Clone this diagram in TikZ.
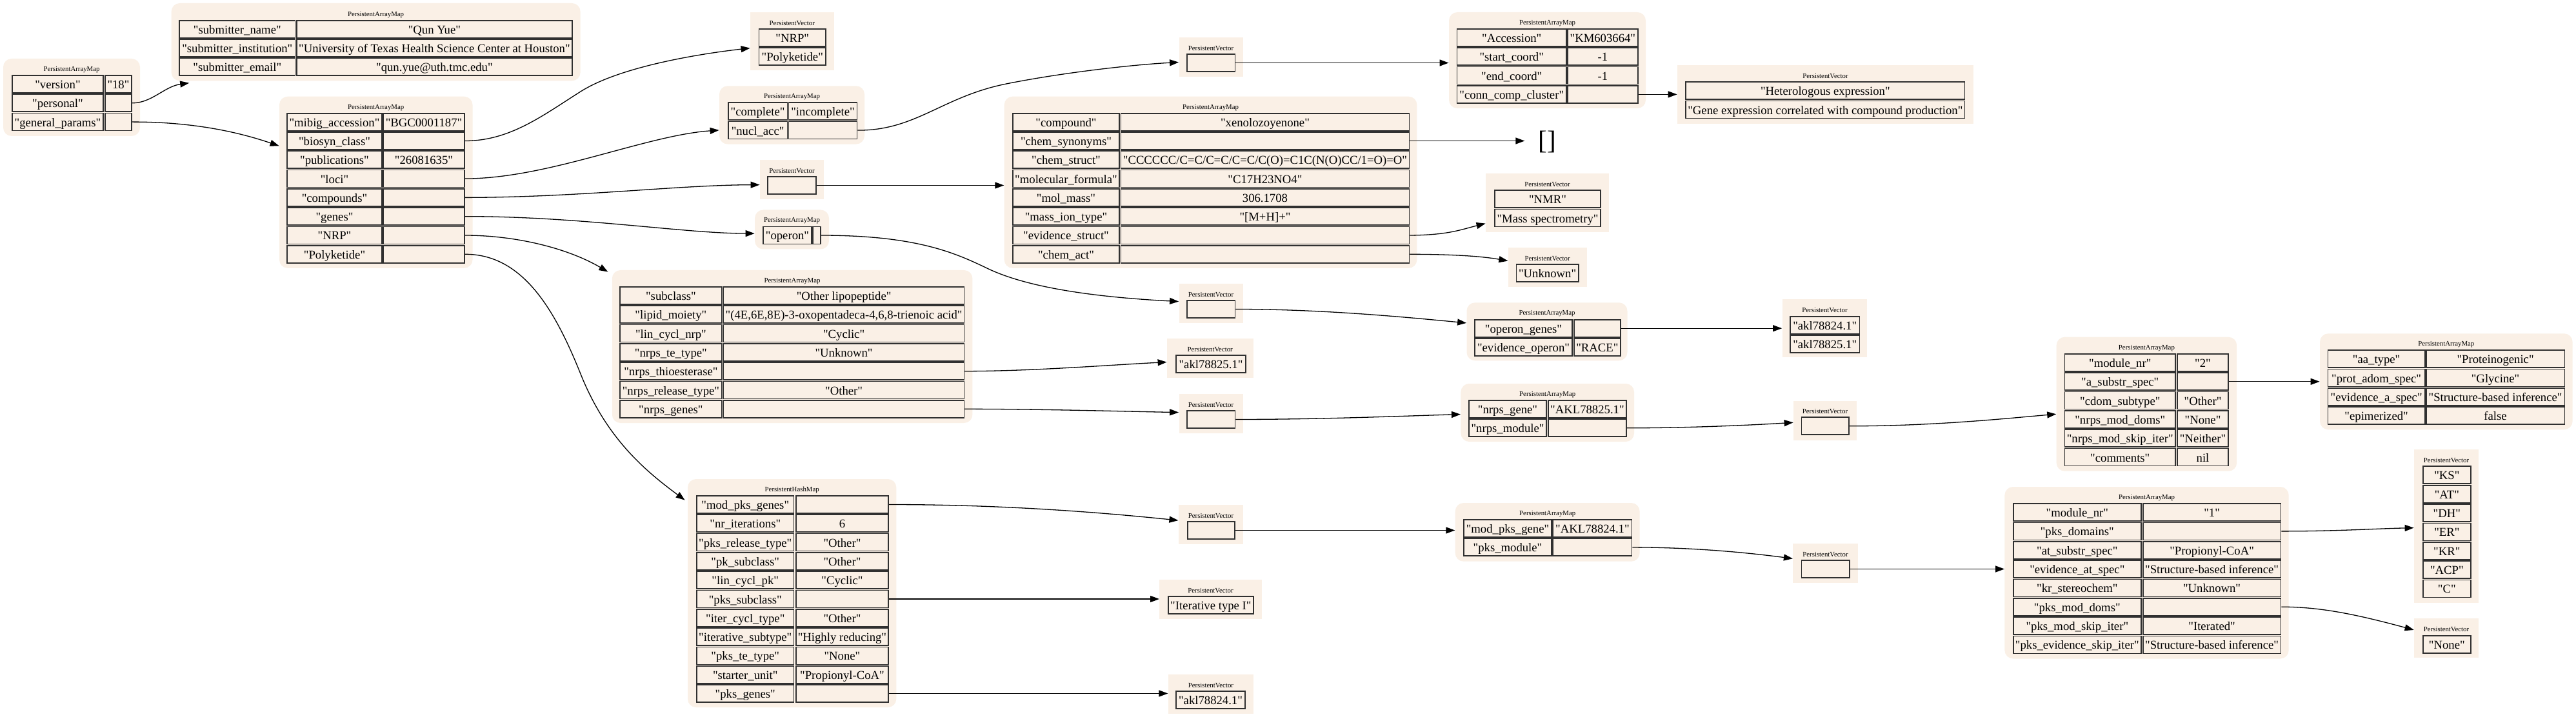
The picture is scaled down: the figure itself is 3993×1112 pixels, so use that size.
\documentclass[tikz,border=0pt]{standalone}
\usepackage{fontspec}
\setmainfont{Liberation Serif}[Ligatures=TeXOff]
\usetikzlibrary{fit,calc,arrows.meta}
\definecolor{bgfill}{HTML}{FAF0E6}
\definecolor{cellline}{HTML}{303030}
% key/value row: name, ytop, kx1, kx2, vx1, vx2, key, value
\newcommand\KV[8]{%
\node[cellst, minimum width={(#4-(#3))*0.5pt}] (#1k) at ({(#3+#4)/2},{#2+13.5}) {#7};
\node[cellst, minimum width={(#6-(#5))*0.5pt}] (#1v) at ({(#5+#6)/2},{#2+13.5}) {#8};}
% vector cell: name, x1, ytop, x2, text
\newcommand\VC[5]{\node[cellst, minimum width={(#4-(#2))*0.5pt}] (#1) at ({(#2+#4)/2},{#3+13.5}) {#5};}
\newcommand\BGM[5]{\node[mapbg, fit={(#2,#3) (#4,#5)}] (#1) {};}
\newcommand\BGV[5]{\node[vecbg, fit={(#2,#3) (#4,#5)}] (#1) {};}
\newcommand\TTL[4]{\node[ttlst] (#1) at (#2,#3) {#4};}
\begin{document}
\begin{tikzpicture}[x=0.5pt,y=-0.5pt,
 mapbg/.style={fill=bgfill, draw=none, rounded corners=6.5pt, inner sep=0pt},
 vecbg/.style={fill=bgfill, draw=none, inner sep=0pt},
 cellst/.style={draw=cellline, line width=0.85pt, inner xsep=0pt, inner ysep=0pt, text height=10.25pt, text depth=3.25pt, anchor=center, font=\fontsize{9.35}{11}\selectfont},
 ttlst/.style={inner sep=0pt, font=\fontsize{5.4}{6}\selectfont},
 conn/.style={draw=black, line width=0.65pt, -{Triangle[length=7pt,width=5pt]}}]
\fill[white] (0,0) rectangle (3993,1112);
\useasboundingbox (0,0) rectangle (3993,1112);

% ---------- A root
\BGM{Abg}{5}{91}{217}{211}
\TTL{At}{111}{108}{PersistentArrayMap}
\KV{A1}{117}{19}{160}{163}{204}{"version"}{"18"}
\KV{A2}{146.3}{19}{160}{163}{204}{"personal"}{}
\KV{A3}{175.6}{19}{160}{163}{204}{"general\_params"}{}

% ---------- B personal
\BGM{Bbg}{265.6}{5}{899.6}{125.3}
\TTL{Bt}{582.6}{22.7}{PersistentArrayMap}
\KV{B1}{31.7}{278}{457.6}{459.8}{887}{"submitter\_name"}{"Qun Yue"}
\KV{B2}{61}{278}{457.6}{459.8}{887}{"submitter\_institution"}{"University of Texas Health Science Center at Houston"}
\KV{B3}{90.3}{278}{457.6}{459.8}{887}{"submitter\_email"}{"qun.yue@uth.tmc.edu"}

% ---------- C general params
\BGM{Cbg}{433}{149.7}{732.5}{415.8}
\TTL{Ct}{582.7}{166.7}{PersistentArrayMap}
\KV{C1}{175.7}{445}{592}{594}{720}{"mibig\_accession"}{"BGC0001187"}
\KV{C2}{205}{445}{592}{594}{720}{"biosyn\_class"}{}
\KV{C3}{234.3}{445}{592}{594}{720}{"publications"}{"26081635"}
\KV{C4}{263.6}{445}{592}{594}{720}{"loci"}{}
\KV{C5}{292.9}{445}{592}{594}{720}{"compounds"}{}
\KV{C6}{322.2}{445}{592}{594}{720}{"genes"}{}
\KV{C7}{351.5}{445}{592}{594}{720}{"NRP"}{}
\KV{C8}{380.8}{445}{592}{594}{720}{"Polyketide"}{}

% ---------- rank 2
\BGV{Dbg}{1163}{19}{1292.5}{109}
\TTL{Dt}{1227.8}{36}{PersistentVector}
\VC{D1}{1176.5}{45}{1280}{"NRP"}
\VC{D2}{1176.5}{74.3}{1280}{"Polyketide"}

\BGM{Ebg}{1115}{133.3}{1340}{223.6}
\TTL{Et}{1227.5}{150.3}{PersistentArrayMap}
\KV{E1}{159.3}{1128.7}{1220.5}{1222.5}{1328.5}{"complete"}{"incomplete"}
\KV{E2}{188.6}{1128.7}{1220.5}{1222.5}{1328.5}{"nucl\_acc"}{}

\BGV{Fbg}{1178}{248}{1277}{309}
\TTL{Ft}{1227.5}{265}{PersistentVector}
\VC{Fc}{1190}{274}{1265}{}

\BGM{OPbg}{1170}{325.5}{1285}{386.5}
\TTL{OPt}{1227.5}{342.5}{PersistentArrayMap}
\KV{OP1}{351.5}{1183}{1258}{1260}{1272}{"operon"}{}

\BGM{Hbg}{948.8}{419}{1507.4}{656}
\TTL{Ht}{1228}{436}{PersistentArrayMap}
\KV{H1}{445}{960.8}{1119}{1121.6}{1494.6}{"subclass"}{"Other lipopeptide"}
\KV{H2}{474.3}{960.8}{1119}{1121.6}{1494.6}{"lipid\_moiety"}{"(4E,6E,8E)-3-oxopentadeca-4,6,8-trienoic acid"}
\KV{H3}{503.6}{960.8}{1119}{1121.6}{1494.6}{"lin\_cycl\_nrp"}{"Cyclic"}
\KV{H4}{532.9}{960.8}{1119}{1121.6}{1494.6}{"nrps\_te\_type"}{"Unknown"}
\KV{H5}{562.2}{960.8}{1119}{1121.6}{1494.6}{"nrps\_thioesterase"}{}
\KV{H6}{591.5}{960.8}{1119}{1121.6}{1494.6}{"nrps\_release\_type"}{"Other"}
\KV{H7}{620.8}{960.8}{1119}{1121.6}{1494.6}{"nrps\_genes"}{}

\BGM{Ibg}{1066}{743}{1389.3}{1097}
\TTL{It}{1227.7}{760}{PersistentHashMap}
\KV{I1}{769}{1080}{1230.5}{1233.7}{1377.2}{"mod\_pks\_genes"}{}
\KV{I2}{798.3}{1080}{1230.5}{1233.7}{1377.2}{"nr\_iterations"}{6}
\KV{I3}{827.6}{1080}{1230.5}{1233.7}{1377.2}{"pks\_release\_type"}{"Other"}
\KV{I4}{856.9}{1080}{1230.5}{1233.7}{1377.2}{"pk\_subclass"}{"Other"}
\KV{I5}{886.2}{1080}{1230.5}{1233.7}{1377.2}{"lin\_cycl\_pk"}{"Cyclic"}
\KV{I6}{915.5}{1080}{1230.5}{1233.7}{1377.2}{"pks\_subclass"}{}
\KV{I7}{944.8}{1080}{1230.5}{1233.7}{1377.2}{"iter\_cycl\_type"}{"Other"}
\KV{I8}{974.1}{1080}{1230.5}{1233.7}{1377.2}{"iterative\_subtype"}{"Highly reducing"}
\KV{I9}{1003.4}{1080}{1230.5}{1233.7}{1377.2}{"pks\_te\_type"}{"None"}
\KV{I10}{1032.7}{1080}{1230.5}{1233.7}{1377.2}{"starter\_unit"}{"Propionyl-CoA"}
\KV{I11}{1062}{1080}{1230.5}{1233.7}{1377.2}{"pks\_genes"}{}

% ---------- rank 3
\BGV{Nbg}{1827.5}{58}{1926.5}{119}
\TTL{Nt}{1877}{75}{PersistentVector}
\VC{Nc}{1840}{84}{1914.5}{}

\BGM{Gbg}{1556.7}{149.7}{2196.4}{415.8}
\TTL{Gt}{1876.5}{166.7}{PersistentArrayMap}
\KV{G1}{175.7}{1570}{1735}{1737.5}{2184.4}{"compound"}{"xenolozoyenone"}
\KV{G2}{205}{1570}{1735}{1737.5}{2184.4}{"chem\_synonyms"}{}
\KV{G3}{234.3}{1570}{1735}{1737.5}{2184.4}{"chem\_struct"}{"CCCCCC/C=C/C=C/C=C/C(O)=C1C(N(O)CC/1=O)=O"}
\KV{G4}{263.6}{1570}{1735}{1737.5}{2184.4}{"molecular\_formula"}{"C17H23NO4"}
\KV{G5}{292.9}{1570}{1735}{1737.5}{2184.4}{"mol\_mass"}{306.1708}
\KV{G6}{322.2}{1570}{1735}{1737.5}{2184.4}{"mass\_ion\_type"}{"[M+H]+"}
\KV{G7}{351.5}{1570}{1735}{1737.5}{2184.4}{"evidence\_struct"}{}
\KV{G8}{380.8}{1570}{1735}{1737.5}{2184.4}{"chem\_act"}{}

\BGV{V1bg}{1827.5}{440}{1926.5}{501}
\TTL{V1t}{1877}{457}{PersistentVector}
\VC{V1c}{1840}{466}{1914.5}{}

\BGV{Pbg}{1809}{525}{1942.5}{586}
\TTL{Pt}{1875.7}{542}{PersistentVector}
\VC{P1}{1823}{551}{1931}{"akl78825.1"}

\BGV{Qbg}{1827.5}{611}{1926.5}{672}
\TTL{Qt}{1877}{628}{PersistentVector}
\VC{Qc}{1840}{637}{1914.5}{}

\BGV{AAbg}{1826.8}{783}{1927}{844}
\TTL{AAt}{1877}{800}{PersistentVector}
\VC{AAc}{1840.8}{809}{1914.2}{}

\BGV{ABbg}{1797.4}{899}{1955.6}{960}
\TTL{ABt}{1876.5}{916}{PersistentVector}
\VC{AB1}{1810.8}{925}{1942.9}{"Iterative type I"}

\BGV{ACbg}{1810.8}{1045.7}{1942.9}{1106.7}
\TTL{ACt}{1876.9}{1062.7}{PersistentVector}
\VC{AC1}{1823}{1071.7}{1930}{"akl78824.1"}

% ---------- rank 4
\BGM{Jbg}{2246}{19}{2551}{168}
\TTL{Jt}{2398.5}{36}{PersistentArrayMap}
\KV{J1}{45}{2258.5}{2428}{2430}{2538.7}{"Accession"}{"KM603664"}
\KV{J2}{74.3}{2258.5}{2428}{2430}{2538.7}{"start\_coord"}{-1}
\KV{J3}{103.6}{2258.5}{2428}{2430}{2538.7}{"end\_coord"}{-1}
\KV{J4}{132.9}{2258.5}{2428}{2430}{2538.7}{"conn\_comp\_cluster"}{}

\node[font=\fontsize{20.5}{24}\selectfont, inner xsep=10.3pt, inner ysep=0pt] (BR) at (2398,220) {[]};

\BGV{Lbg}{2303}{269}{2494}{360}
\TTL{Lt}{2398.5}{286}{PersistentVector}
\VC{L1}{2317}{295.3}{2481}{"NMR"}
\VC{L2}{2317}{324.6}{2481}{"Mass spectrometry"}

\BGV{Mbg}{2337.8}{384}{2459.5}{445}
\TTL{Mt}{2398.6}{401}{PersistentVector}
\VC{M1}{2350.4}{410}{2446.8}{"Unknown"}

\BGM{OGbg}{2273.5}{469.3}{2522.5}{559.3}
\TTL{OGt}{2398}{486.3}{PersistentArrayMap}
\KV{OG1}{495.7}{2286}{2437}{2439.8}{2512}{"operon\_genes"}{}
\KV{OG2}{525}{2286}{2437}{2439.8}{2512}{"evidence\_operon"}{"RACE"}

\BGM{Rbg}{2264.4}{595}{2533}{685}
\TTL{Rt}{2398.7}{612}{PersistentArrayMap}
\KV{R1}{621}{2277}{2397}{2399.8}{2521}{"nrps\_gene"}{"AKL78825.1"}
\KV{R2}{650.3}{2277}{2397}{2399.8}{2521}{"nrps\_module"}{}

\BGM{ADbg}{2255.7}{780}{2541.6}{870.7}
\TTL{ADt}{2398.7}{797}{PersistentArrayMap}
\KV{AD1}{806}{2269}{2405}{2407.3}{2529.6}{"mod\_pks\_gene"}{"AKL78824.1"}
\KV{AD2}{835.3}{2269}{2405}{2407.3}{2529.6}{"pks\_module"}{}

% ---------- rank 5
\BGV{Kbg}{2600}{101}{3059}{192}
\TTL{Kt}{2829.5}{118}{PersistentVector}
\VC{K1}{2613}{127.3}{3045.6}{"Heterologous expression"}
\VC{K2}{2613}{156.6}{3045.6}{"Gene expression correlated with compound production"}

\BGV{Tbg}{2762.5}{464}{2894.4}{554.3}
\TTL{Tt}{2828.5}{481.3}{PersistentVector}
\VC{T1}{2775}{490.7}{2882.4}{"akl78824.1"}
\VC{T2}{2775}{520}{2882.4}{"akl78825.1"}

\BGV{Sbg}{2780}{621.7}{2878}{682.7}
\TTL{St}{2829}{638.3}{PersistentVector}
\VC{Sc}{2792.6}{647.3}{2866.3}{}

\BGV{AEbg}{2779.3}{842.7}{2879.7}{903.7}
\TTL{AEt}{2829.5}{860}{PersistentVector}
\VC{AEc}{2792.5}{869}{2867}{}

% ---------- rank 6
\BGM{Wbg}{3187.6}{522.7}{3467.2}{730.7}
\TTL{Wt}{3327.4}{540}{PersistentArrayMap}
\KV{W1}{549}{3200.5}{3372}{3374.7}{3454.3}{"module\_nr"}{"2"}
\KV{W2}{578.3}{3200.5}{3372}{3374.7}{3454.3}{"a\_substr\_spec"}{}
\KV{W3}{607.6}{3200.5}{3372}{3374.7}{3454.3}{"cdom\_subtype"}{"Other"}
\KV{W4}{636.9}{3200.5}{3372}{3374.7}{3454.3}{"nrps\_mod\_doms"}{"None"}
\KV{W5}{666.2}{3200.5}{3372}{3374.7}{3454.3}{"nrps\_mod\_skip\_iter"}{"Neither"}
\KV{W6}{695.5}{3200.5}{3372}{3374.7}{3454.3}{"comments"}{nil}

\BGM{Ubg}{3107.4}{755}{3547.7}{1021.5}
\TTL{Ut}{3327.5}{772}{PersistentArrayMap}
\KV{U1}{781}{3120.8}{3318.8}{3321.7}{3535.4}{"module\_nr"}{"1"}
\KV{U2}{810.35}{3120.8}{3318.8}{3321.7}{3535.4}{"pks\_domains"}{}
\KV{U3}{839.7}{3120.8}{3318.8}{3321.7}{3535.4}{"at\_substr\_spec"}{"Propionyl-CoA"}
\KV{U4}{869.05}{3120.8}{3318.8}{3321.7}{3535.4}{"evidence\_at\_spec"}{"Structure-based inference"}
\KV{U5}{898.4}{3120.8}{3318.8}{3321.7}{3535.4}{"kr\_stereochem"}{"Unknown"}
\KV{U6}{927.75}{3120.8}{3318.8}{3321.7}{3535.4}{"pks\_mod\_doms"}{}
\KV{U7}{957.1}{3120.8}{3318.8}{3321.7}{3535.4}{"pks\_mod\_skip\_iter"}{"Iterated"}
\KV{U8}{986.45}{3120.8}{3318.8}{3321.7}{3535.4}{"pks\_evidence\_skip\_iter"}{"Structure-based inference"}

% ---------- rank 7
\BGM{Xbg}{3596}{517.3}{3987.6}{666.3}
\TTL{Xt}{3791.8}{534.3}{PersistentArrayMap}
\KV{X1}{543.3}{3608.6}{3758.6}{3760.8}{3975.3}{"aa\_type"}{"Proteinogenic"}
\KV{X2}{572.6}{3608.6}{3758.6}{3760.8}{3975.3}{"prot\_adom\_spec"}{"Glycine"}
\KV{X3}{601.9}{3608.6}{3758.6}{3760.8}{3975.3}{"evidence\_a\_spec"}{"Structure-based inference"}
\KV{X4}{631.2}{3608.6}{3758.6}{3760.8}{3975.3}{"epimerized"}{false}

\BGV{Ybg}{3742}{697}{3842}{935}
\TTL{Yt}{3792}{714}{PersistentVector}
\VC{Y1}{3756}{723.3}{3829.6}{"KS"}
\VC{Y2}{3756}{752.65}{3829.6}{"AT"}
\VC{Y3}{3756}{782}{3829.6}{"DH"}
\VC{Y4}{3756}{811.35}{3829.6}{"ER"}
\VC{Y5}{3756}{840.7}{3829.6}{"KR"}
\VC{Y6}{3756}{870.05}{3829.6}{"ACP"}
\VC{Y7}{3756}{899.4}{3829.6}{"C"}

\BGV{Zbg}{3742}{959}{3842}{1020}
\TTL{Zt}{3792}{976}{PersistentVector}
\VC{Z1}{3756}{985.7}{3829.6}{"None"}

% ---------- connectors
\draw[conn] (A2v.east) .. controls (235,160) and (255,134) .. ($(Bbg.south west)+(28,3)$);
\draw[conn] (A3v.east) .. controls (300,189) and (370,205) .. ($(Cbg.north west)+(0,77)$);
\draw[conn] (C2v.east) .. controls (790,218.5) and (840,180) .. (900,142) .. controls (960,104) and (1080,84) .. ($(Dbg.north west)+(0,56)$);
\draw[conn] (C4v.east) .. controls (850,277) and (1000,210) .. ($(Ebg.north west)+(0,69)$);
\draw[conn] (C5v.east) .. controls (900,306) and (1050,287) .. ($(Fbg.north west)+(0,39)$);
\draw[conn] (C6v.east) .. controls (900,335.5) and (1060,362) .. ($(OPbg.north west)+(0,37)$);
\draw[conn] (C7v.east) .. controls (800,365) and (880,385) .. ($(Hbg.north west)+(-6,3)$);
\draw[conn] (C8v.east) .. controls (810,394) and (860,480) .. (900,580) .. controls (940,680) and (1000,730) .. ($(Ibg.north west)+(-4,33)$);
\draw[conn] (E2v.east) .. controls (1420,202.5) and (1460,150) .. (1560,130) .. controls (1650,112) and (1760,100) .. ($(Nbg.north west)+(0,39)$);
\draw[conn] (Nc.east) -- (Nc.east -| Jbg.west);
\draw[conn] (J4v.east) -- (J4v.east -| Kbg.west);
\draw[conn] (Fc.east) -- (Fc.east -| Gbg.west);
\draw[conn] (G2v.east) -- (G2v.east -| BR.west);
\draw[conn] (G7v.east) .. controls (2245,364.5) and (2265,356) .. ($(Lbg.north west)+(0,78)$);
\draw[conn] (G8v.east) .. controls (2260,394.5) and (2300,398) .. ($(Mbg.north west)+(0,21)$);
\draw[conn] (OP1v.east) .. controls (1420,365) and (1480,392) .. (1530,416) .. controls (1600,450) and (1720,462) .. ($(V1bg.north west)+(0,28)$);
\draw[conn] (V1c.east) .. controls (2050,479.5) and (2180,492) .. ($(OGbg.north west)+(0,32)$);
\draw[conn] (OG1v.east) -- (OG1v.east -| Tbg.west);
\draw[conn] (H5v.east) .. controls (1600,575.7) and (1720,566) .. ($(Pbg.north west)+(0,37)$);
\draw[conn] (H7v.east) .. controls (1620,634.5) and (1740,638) .. ($(Qbg.north west)+(0,29)$);
\draw[conn] (Qc.east) .. controls (2050,650.5) and (2180,645) .. ($(Rbg.north west)+(0,48)$);
\draw[conn] (R2v.east) .. controls (2620,663.8) and (2720,659) .. ($(Sbg.north west)+(0,34)$);
\draw[conn] (Sc.east) .. controls (3000,660.8) and (3120,648) .. ($(Wbg.north west)+(0,120)$);
\draw[conn] (W2v.east) -- (W2v.east -| Xbg.west);
\draw[conn] (I1v.east) .. controls (1550,782.5) and (1700,794) .. ($(AAbg.north west)+(0,24.5)$);
\draw[conn] (I6v.east) -- (I6v.east -| ABbg.west);
\draw[conn] (I11v.east) -- (I11v.east -| ACbg.west);
\draw[conn] (AAc.east) -- (AAc.east -| ADbg.west);
\draw[conn] (AD2v.east) .. controls (2620,849) and (2700,856) .. ($(AEbg.north west)+(0,24)$);
\draw[conn] (AEc.east) -- (AEc.east -| Ubg.west);
\draw[conn] (U2v.east) .. controls (3620,824) and (3680,820) .. ($(Ybg.north west)+(0,122)$);
\draw[conn] (U6v.east) .. controls (3600,941) and (3660,955) .. ($(Zbg.north west)+(0,18.3)$);
\end{tikzpicture}
\end{document}
